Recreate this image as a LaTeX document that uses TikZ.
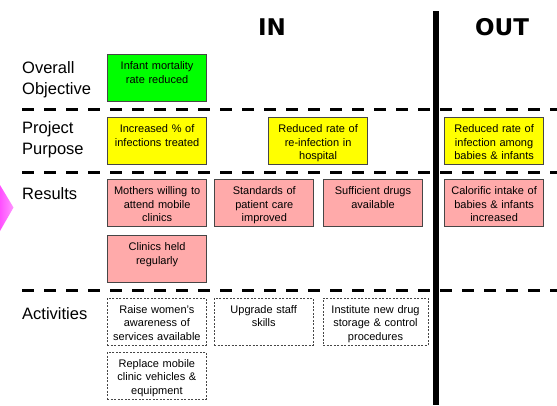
\documentclass[tikz,border=0pt]{standalone}
\usepackage{fontspec}
\setmainfont{Liberation Sans}
\newfontfamily\headfont{DejaVu Sans}
\usetikzlibrary{positioning}
\definecolor{objgreen}{RGB}{0,255,0}
\definecolor{purpyellow}{RGB}{255,255,0}
\definecolor{respink}{RGB}{255,170,170}
\definecolor{boxline}{RGB}{70,70,70}
\definecolor{arrowmag}{RGB}{255,80,255}
\definecolor{arrowlight}{RGB}{255,150,255}

\begin{document}
\begin{tikzpicture}[
    x=1pt, y=-1pt,
    box/.style={rectangle, draw=boxline, line width=1.2pt, anchor=north west, align=center, text width=95pt, inner xsep=2pt, inner ysep=2pt, text height=13pt, text depth=30pt, font=\fontsize{11}{13.5}\selectfont},
    actbox/.style={box, line width=0.8pt, dash pattern=on 2pt off 1.5pt, fill=white},
    rowlabel/.style={anchor=north west, align=left, inner sep=0pt, font=\fontsize{16.5}{21}\selectfont},
    head/.style={anchor=base, inner sep=0pt, font=\headfont\bfseries\fontsize{23}{27}\selectfont},
    sepline/.style={line width=3pt, dash pattern=on 12pt off 10pt},
    divider/.style={line width=6pt}
]
\useasboundingbox (0,0) rectangle (557,405);

% column heads and row labels
\node[head] (inhead) at (272,35) {IN};
\node[head] (outhead) at (502,35) {OUT};
\node[rowlabel] (objlabel) at (22,61) {Overall\\Objective};
\node[rowlabel] (purplabel) at (22,121) {Project\\Purpose};
\node[rowlabel] (reslabel) at (22,187) {Results};
\node[rowlabel] (actlabel) at (22,307) {Activities};

% row separators and IN/OUT divider
\draw[sepline] (22,109) -- (557,109);
\draw[sepline] (22,172) -- (557,172);
\draw[sepline] (22,290) -- (557,290);
\draw[divider] (435.5,11) -- (435.5,405);

% arrow cut off at the left edge
\shade[left color=arrowmag, right color=arrowlight] (0,185) -- (13.5,207.5) -- (0,231) -- cycle;

% boxes
\node[box, fill=objgreen] (mortality) at (107,54) {Infant mortality\\rate reduced};
\node[box, fill=purpyellow] (treated) at (107,117) {Increased \% of\\infections treated};
\node[box, fill=purpyellow] (reinfect) at (268,117) {Reduced rate of\\re-infection in\\hospital};
\node[box, fill=purpyellow] (babies) at (444,117) {Reduced rate of\\infection among\\babies \& infants};
\node[box, fill=respink] (mothers) at (107,179) {Mothers willing to\\attend mobile\\clinics};
\node[box, fill=respink, right=7pt of mothers] (standards) {Standards of\\patient care\\improved};
\node[box, fill=respink, right=8.5pt of standards] (drugs) {Sufficient drugs\\available};
\node[box, fill=respink] (calorific) at (444,179) {Calorific intake of\\babies \& infants\\increased};
\node[box, fill=respink, below=8pt of mothers] (clinics) {Clinics held\\regularly};
\node[actbox] (awareness) at (107,298) {Raise women's\\awareness of\\services available};
\node[actbox, right=7pt of awareness] (upgrade) {Upgrade staff\\skills};
\node[actbox, right=9pt of upgrade, text width=101pt] (drugstore) {Institute new drug\\storage \& control\\procedures};
\node[actbox, below=6pt of awareness] (vehicles) {Replace mobile\\clinic vehicles \&\\equipment};
\end{tikzpicture}
\end{document}
